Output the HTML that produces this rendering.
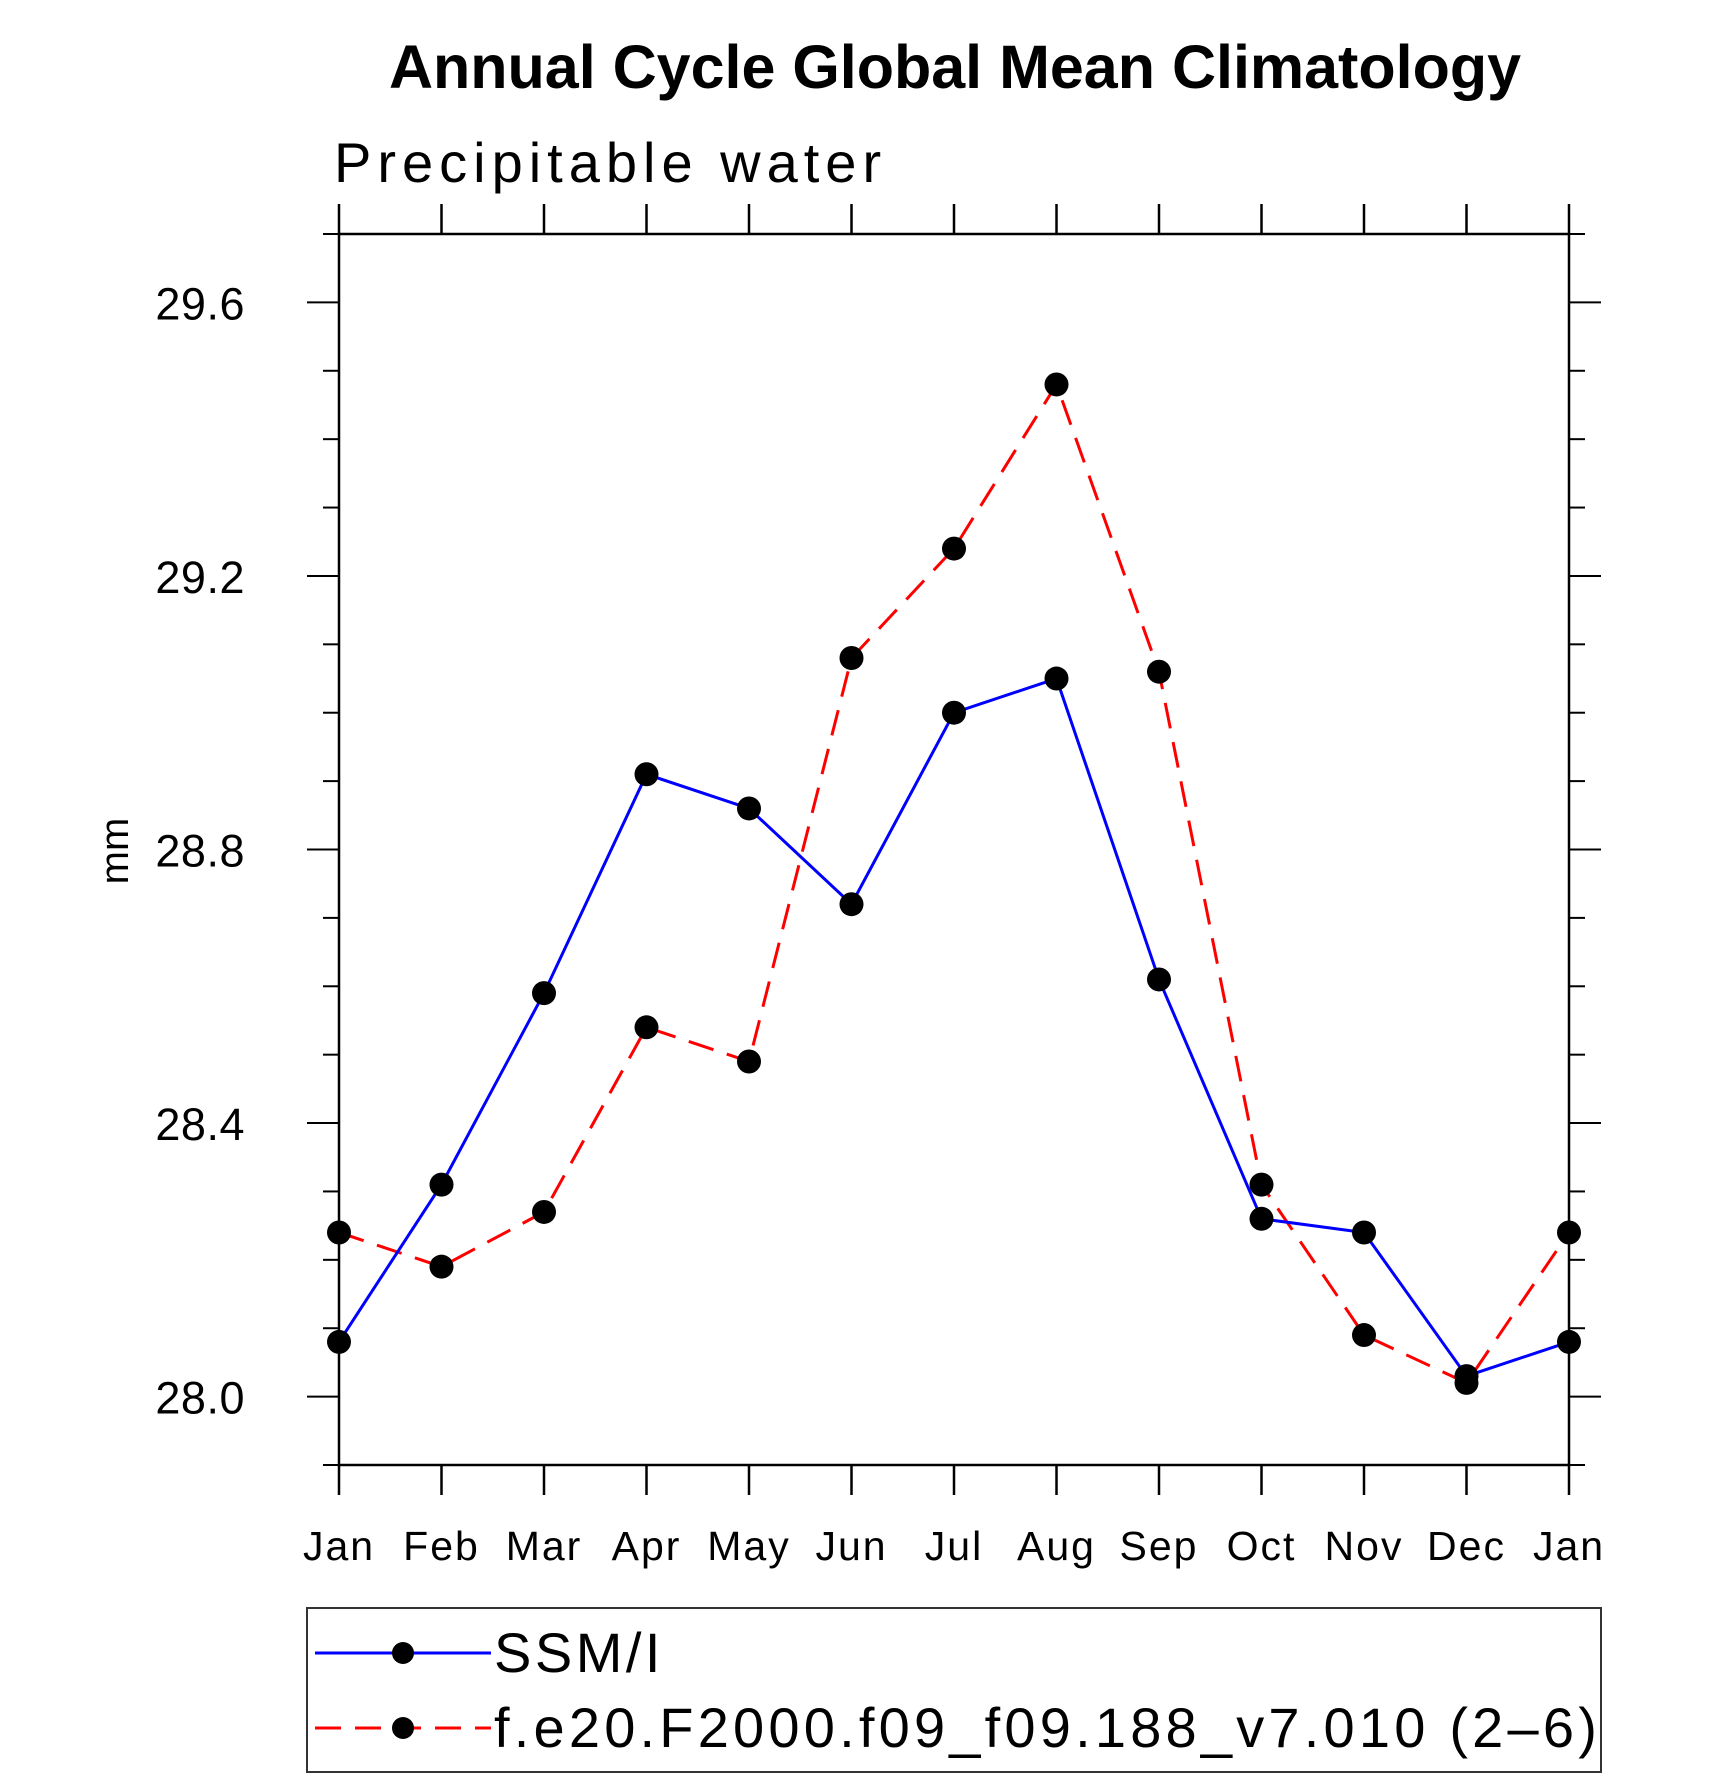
<!DOCTYPE html>
<html><head><meta charset="utf-8"><style>
html,body{margin:0;padding:0;background:#fff;}
svg{display:block;font-family:"Liberation Sans",sans-serif;}
</style></head><body>
<svg id="chart" width="1710" height="1778" viewBox="0 0 1710 1778">
<text x="955" y="88" text-anchor="middle" font-size="61" font-weight="bold">Annual Cycle Global Mean Climatology</text>
<text x="334" y="182" font-size="56" letter-spacing="6">Precipitable water</text>
<text transform="translate(128,851) rotate(-90)" text-anchor="middle" font-size="40">mm</text>
<g id="axes"></g>
<g id="series"></g>
<g id="legend">
<rect x="307" y="1608" width="1294" height="164" fill="none" stroke="#333" stroke-width="2"/>
<line x1="315" y1="1653" x2="491" y2="1653" stroke="#00f" stroke-width="3"/>
<circle cx="403" cy="1653" r="11" fill="#000"/>
<text x="494" y="1672" font-size="56" letter-spacing="3.5">SSM/I</text>
<line x1="315" y1="1728" x2="491" y2="1728" stroke="#f00" stroke-width="3" stroke-dasharray="26,14"/>
<circle cx="403" cy="1728" r="11" fill="#000"/>
<text x="494" y="1747" font-size="56" letter-spacing="4.2">f.e20.F2000.f09_f09.188_v7.010 (2–6)</text>
</g>
</svg>
<script>
const months = ["Jan","Feb","Mar","Apr","May","Jun","Jul","Aug","Sep","Oct","Nov","Dec","Jan"];
const ssmi = [28.08,28.31,28.59,28.91,28.86,28.72,29.00,29.05,28.61,28.26,28.24,28.03,28.08];
const model = [28.24,28.19,28.27,28.54,28.49,29.08,29.24,29.48,29.06,28.31,28.09,28.02,28.24];
const yTicks = ["28.0","28.4","28.8","29.2","29.6"];
const yMin = 27.9, yMax = 29.7;
const L=339,R=1569,T=234,B=1465;
const NS="http://www.w3.org/2000/svg";
function X(i){return L+(R-L)*i/(months.length-1);}
function Y(v){return B-(B-T)*(v-yMin)/(yMax-yMin);}
function mk(tag,attrs,parent){const e=document.createElementNS(NS,tag);for(const k in attrs)e.setAttribute(k,attrs[k]);parent.appendChild(e);return e;}
const ax=document.getElementById('axes');
const frame=mk('rect',{x:L,y:T,width:R-L,height:B-T,fill:'none',stroke:'#000','stroke-width':2.5},ax);


months.forEach((m,i)=>{
  const x=X(i);
  const t1=mk('line',{x1:x,y1:T,x2:x,y2:T-30,stroke:'#000','stroke-width':2.5},ax);
  
  
  const t2=mk('line',{x1:x,y1:B,x2:x,y2:B+30,stroke:'#000','stroke-width':2.5},ax);
  
  
  const tx=mk('text',{x:x,y:1560,'text-anchor':'middle','font-size':41,'letter-spacing':2},ax);
  tx.textContent=m;
  
  
});
for(let k=0;k<=Math.round((yMax-yMin)*10);k++){
  const v=yMin+k*0.1;const y=Y(v);
  const r=((Math.round(v*10))%4+4)%4;
  const major=r===0;
  const len=major?32:16;
  const a=mk('line',{x1:L,y1:y,x2:L-len,y2:y,stroke:'#000','stroke-width':2},ax);
  
  
  const b=mk('line',{x1:R,y1:y,x2:R+len,y2:y,stroke:'#000','stroke-width':2},ax);
  
  
}
yTicks.forEach(s=>{
  const tx=mk('text',{x:245,y:Y(parseFloat(s))+17,'text-anchor':'end','font-size':45,'letter-spacing':0.5},ax);
  tx.textContent=s;
  
  
});
const sg=document.getElementById('series');
function drawSeries(vals,color,dash,name){
  const pts=vals.map((v,i)=>X(i)+','+Y(v)).join(' ');
  const pl=mk('polyline',{points:pts,fill:'none',stroke:color,'stroke-width':3},sg);
  if(dash)pl.setAttribute('stroke-dasharray',dash);
  
  
  vals.forEach((v,i)=>{
    const c=mk('circle',{cx:X(i),cy:Y(v),r:12,fill:'#000'},sg);
    
    
  });
}
drawSeries(model,'#f00','26,14','model');
drawSeries(ssmi,'#00f',null,'ssmi');
</script>
</body></html>
